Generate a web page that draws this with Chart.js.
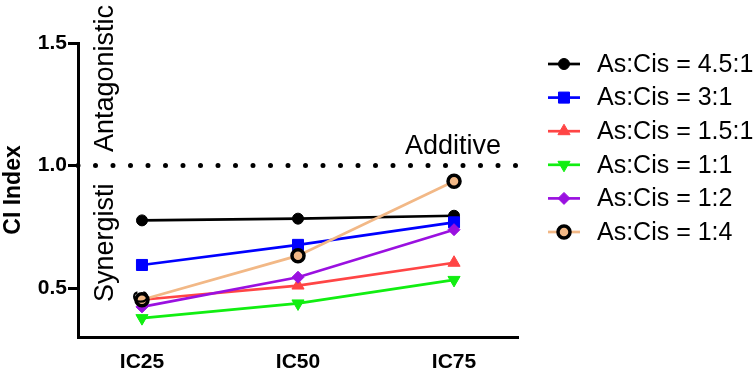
<!DOCTYPE html>
<html>
<head>
<meta charset="utf-8">
<script src="https://cdn.jsdelivr.net/npm/chart.js@4"></script>
<style>
  html, body { margin: 0; padding: 0; background: #fff; }
  #wrap { width: 753px; height: 383px; }
</style>
</head>
<body>
<div id="wrap"><canvas id="ciGraph" width="753" height="383"></canvas></div>
<script>
// categories and values
var doses = ['IC25', 'IC50', 'IC75'];
var yTicks = [0.5, 1.0, 1.5];
var ratios = ['As:Cis = 4.5:1', 'As:Cis = 3:1', 'As:Cis = 1.5:1', 'As:Cis = 1:1', 'As:Cis = 1:2', 'As:Cis = 1:4'];
var ratio45 = [0.776, 0.783, 0.795];
var ratio3 = [0.594, 0.676, 0.768];
var ratio15 = [0.452, 0.510, 0.603];
var ratio1 = [0.377, 0.437, 0.533];
var ratio12 = [0.423, 0.544, 0.738];
var ratio14 = [0.452, 0.632, 0.936];
var additiveLine = 1.0;

var FONT = "'Liberation Sans', Arial, Helvetica, sans-serif";

function toPoints(values) {
    return values.map(function(v, i) { return { x: i, y: v }; });
}

var styles = [
    { color: '#000000', point: 'circle', radius: 5.5, fill: '#000000', border: '#000000', bw: 1 },
    { color: '#0000ff', point: 'rect', radius: 7.8, fill: '#0000ff', border: '#0000ff', bw: 1 },
    { color: '#ff4545', point: 'triangle', radius: 7, fill: '#ff4545', border: '#ff4545', bw: 1 },
    { color: '#11ee11', point: 'triangle', radius: 7, fill: '#11ee11', border: '#11ee11', bw: 1, rot: 180 },
    { color: '#9a10e0', point: 'rectRot', radius: 6, fill: '#9a10e0', border: '#9a10e0', bw: 1 },
    { color: '#f2b886', point: 'circle', radius: 6, fill: '#f2b886', border: '#000000', bw: 3.5 }
];
var series = [ratio45, ratio3, ratio15, ratio1, ratio12, ratio14];

var datasets = series.map(function(values, i) {
    var s = styles[i];
    return {
        label: ratios[i],
        data: toPoints(values),
        borderColor: s.color,
        borderWidth: 2.7,
        pointStyle: s.point,
        pointRadius: s.radius,
        pointRotation: s.rot || 0,
        pointBackgroundColor: s.fill,
        pointBorderColor: s.border,
        pointBorderWidth: s.bw,
        order: -i,
        fill: false,
        tension: 0
    };
});

function drawMarker(ctx, s, x, y, r) {
    ctx.save();
    ctx.fillStyle = s.fill;
    ctx.strokeStyle = s.border;
    ctx.lineWidth = s.bw;
    ctx.beginPath();
    if (s.point === 'circle') {
        ctx.arc(x, y, r, 0, Math.PI * 2);
    } else if (s.point === 'rect') {
        var h = r * Math.SQRT1_2;
        ctx.rect(x - h, y - h, 2 * h, 2 * h);
    } else if (s.point === 'rectRot') {
        ctx.moveTo(x, y - r); ctx.lineTo(x + r, y); ctx.lineTo(x, y + r); ctx.lineTo(x - r, y);
        ctx.closePath();
    } else if (s.point === 'triangle') {
        var d = s.rot ? -1 : 1;
        ctx.moveTo(x, y - d * r);
        ctx.lineTo(x + r * 0.866, y + d * r * 0.5);
        ctx.lineTo(x - r * 0.866, y + d * r * 0.5);
        ctx.closePath();
    }
    ctx.fill();
    ctx.stroke();
    ctx.restore();
}

var dottedLine = {
    id: 'dottedLine',
    beforeDatasetsDraw: function(chart) {
        var ctx = chart.ctx, area = chart.chartArea;
        var y = chart.scales.y.getPixelForValue(additiveLine);
        ctx.save();
        ctx.strokeStyle = '#000';
        ctx.lineWidth = 5;
        ctx.lineCap = 'round';
        ctx.setLineDash([0, 17.5]);
        ctx.beginPath();
        ctx.moveTo(area.left, y);
        ctx.lineTo(area.right + 2, y);
        ctx.stroke();
        ctx.restore();
    }
};

var notes = {
    id: 'notes',
    afterDraw: function(chart) {
        var ctx = chart.ctx;
        ctx.save();
        ctx.fillStyle = '#000';
        ctx.font = '27px ' + FONT;
        ctx.textBaseline = 'alphabetic';
        ctx.textAlign = 'left';
        ctx.fillText('Additive', 405, 154);

        function vert(text, bx, by) {
            ctx.save();
            ctx.translate(bx, by);
            ctx.rotate(-Math.PI / 2);
            ctx.fillText(text, 0, 0);
            ctx.restore();
        }
        vert('Antagonistic', 113, 152);
        vert('Synergisti', 113, 302);
        vert('c', 148, 304);

        // legend: line with marker, then label
        ctx.font = '25px ' + FONT;
        ctx.textBaseline = 'middle';
        for (var i = 0; i < ratios.length; i++) {
            var y = 64 + i * 33.6;
            var s = styles[i];
            ctx.strokeStyle = s.color;
            ctx.lineWidth = 2.7;
            ctx.beginPath();
            ctx.moveTo(548, y);
            ctx.lineTo(580, y);
            ctx.stroke();
            drawMarker(ctx, s, 564, y, s.radius);
            ctx.fillStyle = '#000';
            ctx.fillText(ratios[i], 597, y + 1);
        }
        ctx.restore();
    }
};

const ciCtx = document.getElementById('ciGraph');
const ciChart = new Chart(ciCtx, {
    type: 'line',
    data: { datasets: datasets },
    options: {
        responsive: false,
        animation: false,
        devicePixelRatio: 1,
        layout: { padding: { left: 0, right: 235, top: 43, bottom: 0 } },
        plugins: {
            legend: { display: false },
            tooltip: { enabled: false }
        },
        scales: {
            x: {
                type: 'linear',
                min: -0.41,
                max: 2.41,
                afterBuildTicks: function(scale) {
                    scale.ticks = doses.map(function(d, i) { return { value: i }; });
                },
                afterFit: function(scale) { scale.height = 46; },
                grid: { display: false, drawTicks: false },
                border: { color: '#000', width: 3 },
                ticks: {
                    color: '#000',
                    padding: 13,
                    maxRotation: 0,
                    font: { family: FONT, size: 21, weight: 'bold' },
                    callback: function(v) { return doses[v]; }
                }
            },
            y: {
                min: 0.3,
                max: 1.5,
                afterBuildTicks: function(scale) {
                    scale.ticks = yTicks.map(function(v) { return { value: v }; });
                },
                afterFit: function(scale) { scale.width = 78; },
                grid: { display: true, drawOnChartArea: false, drawTicks: true, tickLength: 10, color: '#000', lineWidth: 3 },
                border: { color: '#000', width: 3 },
                title: {
                    display: true,
                    text: 'CI Index',
                    color: '#000',
                    padding: { top: 0, bottom: 0 },
                    font: { family: FONT, size: 23, weight: 'bold' }
                },
                ticks: {
                    color: '#000',
                    padding: 1,
                    font: { family: FONT, size: 21, weight: 'bold' },
                    callback: function(v) { return v.toFixed(1); }
                }
            }
        }
    },
    plugins: [dottedLine, notes]
});
</script>
</body>
</html>
